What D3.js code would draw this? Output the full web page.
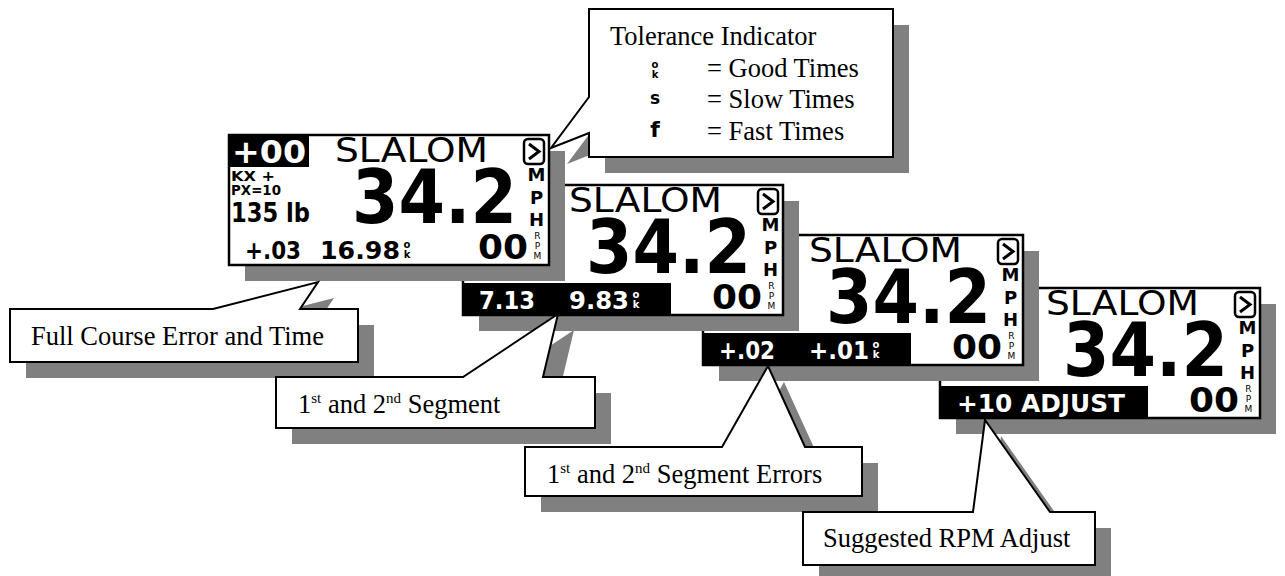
<!DOCTYPE html>
<html><head><meta charset="utf-8">
<script src="https://cdn.jsdelivr.net/npm/d3@7"></script>
<style>html,body{margin:0;padding:0;background:#fff;}svg{display:block;}</style>
</head><body>
<script>
// ---- data (texts shown on the display screens and callouts) ----
const screenTitle = "SLALOM";
const speedValues = ["34.2", "34.2", "34.2", "34.2"];
const speedUnit = "MPH";
const rpmValues = ["00", "00", "00", "00"];
const rpmUnit = "RPM";
const okFlag = "ok";
const headerBadge = "+00";
const sideInfo = ["KX +", "PX=10", "135 lb"];
const bottomLeftA = ["+.03", "7.13", "+.02", "+10 ADJUST"];
const bottomLeftB = ["16.98", "9.83", "+.01", ""];
const bottomInverted = [false, true, true, true];
const toleranceTitle = "Tolerance Indicator";
const toleranceSymbols = ["ok", "s", "f"];
const toleranceMeanings = ["= Good Times", "= Slow Times", "= Fast Times"];
const calloutTexts = [
  [{t: "Full Course Error and Time"}],
  [{t: "1"}, {t: "st", sup: true}, {t: " and 2"}, {t: "nd", sup: true}, {t: " Segment"}],
  [{t: "1"}, {t: "st", sup: true}, {t: " and 2"}, {t: "nd", sup: true}, {t: " Segment Errors"}],
  [{t: "Suggested RPM Adjust"}]
];

const W = 1285, H = 576;
const svg = d3.select("body").append("svg").attr("width", W).attr("height", H);
const SH = "#808080", SHOFF = 16;
const LCD = "'DejaVu Sans', sans-serif";
const SERIF = "'Liberation Serif', 'Times New Roman', serif";

const screenOrigins = [[229, 135], [463, 185], [703, 235], [940, 288]];
const SW = 320, SHt = 130;

function fit(g, s, x0, x1, base, size, weight, fill, family) {
  return g.append("text").attr("x", x0).attr("y", base)
    .attr("font-family", family || LCD).attr("font-size", size)
    .attr("font-weight", weight || "normal").attr("fill", fill || "#000")
    .attr("textLength", x1 - x0).attr("lengthAdjust", "spacingAndGlyphs").text(s);
}
function vstack(g, s, cx, top, size, spacing, weight, fill) {
  return g.append("text").attr("x", cx).attr("y", top)
    .attr("font-family", LCD).attr("font-size", size)
    .attr("font-weight", weight || "bold").attr("fill", fill || "#000")
    .style("writing-mode", "vertical-rl").style("text-orientation", "upright")
    .style("letter-spacing", spacing + "px").text(s);
}

function drawScreen(i) {
  const [ox, oy] = screenOrigins[i];
  const xs = d3.scaleLinear().domain([0, SW]).range([ox, ox + SW]);
  const ys = d3.scaleLinear().domain([0, SHt]).range([oy, oy + SHt]);
  const g = svg.append("g");
  g.append("rect").attr("x", xs(0) + SHOFF).attr("y", ys(0) + SHOFF)
    .attr("width", SW).attr("height", SHt).attr("fill", SH);
  g.append("rect").attr("x", xs(0)).attr("y", ys(0)).attr("width", SW).attr("height", SHt)
    .attr("fill", "#fff").attr("stroke", "#000").attr("stroke-width", 2.5);
  if (i === 0) {
    g.append("rect").attr("x", xs(0)).attr("y", ys(0)).attr("width", 80).attr("height", 32).attr("fill", "#000");
    fit(g, headerBadge, xs(3), xs(77), ys(28), 32, "bold", "#fff");
    fit(g, sideInfo[0], xs(2), xs(46), ys(46), 14, "bold");
    fit(g, sideInfo[1], xs(2), xs(52), ys(60), 14, "bold");
    fit(g, sideInfo[2], xs(2), xs(81), ys(87), 26, "bold");
  }
  fit(g, screenTitle, xs(106), xs(259), ys(27), 33, "normal");
  g.append("rect").attr("x", xs(295)).attr("y", ys(4)).attr("width", 20).attr("height", 25)
    .attr("rx", 4).attr("fill", "#fff").attr("stroke", "#000").attr("stroke-width", 2.5);
  g.append("path").attr("d", `M${xs(300)},${ys(9)} L${xs(310)},${ys(16.5)} L${xs(300)},${ys(24)}`)
    .attr("fill", "none").attr("stroke", "#000").attr("stroke-width", 3);
  fit(g, speedValues[i], xs(123), xs(288), ys(88), 74, "bold");
  vstack(g, speedUnit, xs(307.5), ys(29), 18, 1.5, "bold");
  fit(g, rpmValues[i], xs(249), xs(299), ys(124), 34, "bold");
  vstack(g, rpmUnit, xs(308.5), ys(96), 9, 0, "normal");
  const inv = bottomInverted[i];
  const fill = inv ? "#fff" : "#000";
  if (inv) g.append("rect").attr("x", xs(0)).attr("y", ys(98)).attr("width", 208).attr("height", 31).attr("fill", "#000");
  if (bottomLeftB[i]) {
    fit(g, bottomLeftA[i], xs(16), xs(72), ys(124), 24, "bold", fill);
    fit(g, bottomLeftB[i], xs(i === 0 ? 91 : 106), xs(i === 0 ? 171 : 166), ys(124), 24, "bold", fill);
    vstack(g, okFlag, xs(i === 0 ? 178 : 173), ys(104), 10, -1, "bold", fill);
  } else {
    fit(g, bottomLeftA[i], xs(17), xs(185), ys(124), 24, "bold", fill);
  }
}
[3, 2, 1, 0].forEach(drawScreen);

// ---- callouts ----
function calloutPath(b, p) {
  const [x0, y0, x1, y1] = b;
  if (p.side === "top")
    return `M${x0},${y0} L${p.a},${y0} L${p.tip[0]},${p.tip[1]} L${p.c},${y0} L${x1},${y0} L${x1},${y1} L${x0},${y1} Z`;
  return `M${x0},${y0} L${x1},${y0} L${x1},${y1} L${x0},${y1} L${x0},${p.c} L${p.tip[0]},${p.tip[1]} L${x0},${p.a} Z`;
}
function drawCallout(b, p) {
  const g = svg.append("g");
  g.append("path").attr("d", calloutPath(b, p)).attr("transform", `translate(${SHOFF},${SHOFF})`).attr("fill", SH);
  g.append("path").attr("d", calloutPath(b, p)).attr("fill", "#fff").attr("stroke", "#000")
    .attr("stroke-width", 2).attr("stroke-linejoin", "miter");
  return g;
}
const calloutBoxes = [
  {b: [10, 309, 358, 362], p: {side: "top", a: 213, c: 300, tip: [318, 282]}, tx: 31, ty: 345},
  {b: [276, 377, 595, 428], p: {side: "top", a: 463, c: 543, tip: [558, 314]}, tx: 298, ty: 413},
  {b: [525, 447, 862, 496], p: {side: "top", a: 722, c: 805, tip: [768, 366]}, tx: 547, ty: 483},
  {b: [803, 512, 1095, 565], p: {side: "top", a: 973, c: 1050, tip: [985, 420]}, tx: 823, ty: 547}
];
calloutBoxes.forEach((cb, i) => {
  const g = drawCallout(cb.b, cb.p);
  const t = g.append("text").attr("x", cb.tx).attr("y", cb.ty).attr("font-family", SERIF)
    .attr("font-size", 26.5).attr("fill", "#000");
  let prevSup = false;
  calloutTexts[i].forEach(part => {
    const sp = t.append("tspan").text(part.t);
    if (part.sup) { sp.attr("font-size", 15).attr("dy", -10); prevSup = true; }
    else if (prevSup) { sp.attr("dy", 10); prevSup = false; }
  });
});
{
  const g = drawCallout([589, 9, 893, 157], {side: "left", a: 97, c: 133, tip: [551, 148]});
  g.append("text").attr("x", 610).attr("y", 45).attr("font-family", SERIF).attr("font-size", 26.5).text(toleranceTitle);
  const ys = [77, 108, 140];
  toleranceMeanings.forEach((m, i) => {
    g.append("text").attr("x", 707).attr("y", ys[i]).attr("font-family", SERIF).attr("font-size", 26.5).text(m);
  });
  vstack(g, toleranceSymbols[0], 655, 59, 10, -1, "bold");
  g.append("text").attr("x", 655).attr("y", 104).attr("text-anchor", "middle").attr("font-family", LCD)
    .attr("font-size", 17).attr("font-weight", "bold").text(toleranceSymbols[1]);
  g.append("text").attr("x", 655).attr("y", 137).attr("text-anchor", "middle").attr("font-family", LCD)
    .attr("font-size", 22).attr("font-weight", "bold").text(toleranceSymbols[2]);
}
</script>
</body></html>
